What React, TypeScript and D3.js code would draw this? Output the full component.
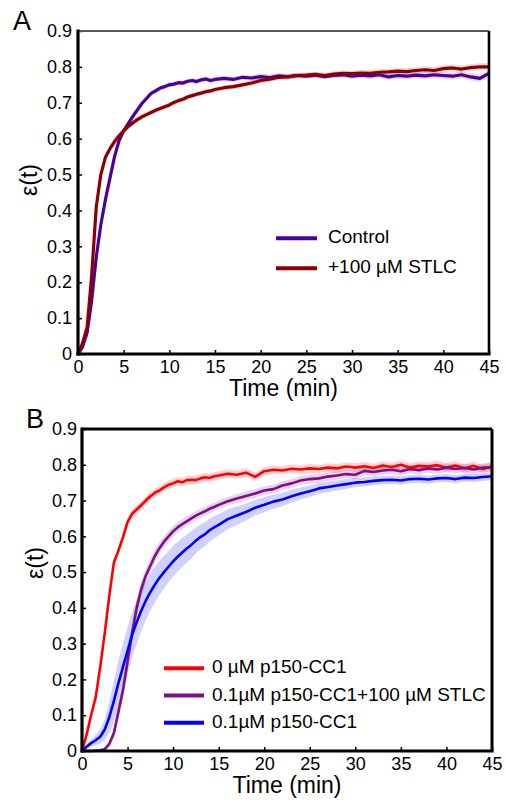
import { useRef, useEffect } from "react";
import * as d3 from "d3";

// time points (min)
const times = [
  0, 0.5, 1, 1.5, 2, 2.5, 3, 3.5, 4, 4.5,
  5, 5.5, 6, 6.5, 7, 7.5, 8, 8.5, 9, 9.5,
  10, 10.5, 11, 11.5, 12, 12.5, 13, 13.5, 14, 14.5,
  15,
  16, 17, 18, 19, 20, 21, 22, 23, 24, 25,
  26, 27, 28, 29, 30, 31, 32, 33, 34, 35,
  36, 37, 38, 39, 40, 41, 42, 43, 44, 45,
];

// panel A
const controlA = [
  0, 0.02, 0.06, 0.15, 0.27, 0.36, 0.43, 0.49, 0.55, 0.595,
  0.622, 0.642, 0.662, 0.68, 0.698, 0.712, 0.726, 0.733, 0.741, 0.745,
  0.75, 0.752, 0.756, 0.755, 0.76, 0.762, 0.759, 0.764, 0.766, 0.762,
  0.765,
  0.768, 0.765, 0.771, 0.769, 0.773, 0.77, 0.775, 0.772, 0.776, 0.774,
  0.777, 0.773, 0.776, 0.778, 0.774, 0.777, 0.775, 0.778, 0.772, 0.776,
  0.774, 0.777, 0.775, 0.778, 0.776, 0.774, 0.778, 0.772, 0.768, 0.782,
];
const stlcA = [
  0, 0.03, 0.075, 0.22, 0.41, 0.5, 0.548, 0.572, 0.592, 0.608,
  0.622, 0.634, 0.644, 0.653, 0.661, 0.667, 0.673, 0.679, 0.684, 0.689,
  0.694, 0.701, 0.706, 0.71, 0.716, 0.72, 0.724, 0.727, 0.731, 0.733,
  0.737,
  0.742, 0.745, 0.75, 0.755, 0.762, 0.766, 0.771, 0.773, 0.776, 0.777,
  0.779, 0.776, 0.78, 0.782, 0.781, 0.783, 0.782, 0.785, 0.786, 0.788,
  0.787, 0.79, 0.792, 0.79, 0.795, 0.797, 0.794, 0.798, 0.8, 0.8,
];
const semA = [
  0, 0.003, 0.005, 0.008, 0.01, 0.01, 0.01, 0.01, 0.01, 0.01,
  0.009, 0.008, 0.008, 0.008, 0.008, 0.008, 0.007, 0.007, 0.007, 0.007,
  0.007, 0.007, 0.007, 0.007, 0.007, 0.007, 0.007, 0.007, 0.007, 0.007,
  0.007,
  0.007, 0.007, 0.007, 0.008, 0.008, 0.008, 0.008, 0.008, 0.008, 0.008,
  0.008, 0.008, 0.008, 0.008, 0.008, 0.009, 0.009, 0.009, 0.009, 0.009,
  0.009, 0.009, 0.01, 0.01, 0.01, 0.01, 0.01, 0.01, 0.01, 0.01,
];

// panel B
const p150zero = [
  0, 0.045, 0.1, 0.15, 0.235, 0.33, 0.435, 0.527, 0.56, 0.598,
  0.64, 0.663, 0.675, 0.687, 0.7, 0.712, 0.722, 0.728, 0.737, 0.744,
  0.748, 0.754, 0.751, 0.757, 0.758, 0.757, 0.762, 0.765, 0.763, 0.768,
  0.77,
  0.775, 0.772, 0.778, 0.766, 0.782, 0.786, 0.784, 0.789, 0.787, 0.79,
  0.788, 0.792, 0.79, 0.795, 0.792, 0.796, 0.791, 0.798, 0.794, 0.8,
  0.792, 0.797, 0.795, 0.799, 0.792, 0.798, 0.79, 0.797, 0.788, 0.795,
];
const p150stlc = [
  0, 0, 0, 0.001, 0.002, 0.005, 0.02, 0.05, 0.11, 0.17,
  0.25, 0.33, 0.4, 0.452, 0.49, 0.518, 0.545, 0.567, 0.585, 0.6,
  0.614, 0.625, 0.634, 0.642, 0.65, 0.658, 0.664, 0.67, 0.677, 0.682,
  0.688,
  0.698, 0.706, 0.713, 0.72, 0.728, 0.732, 0.742, 0.748, 0.756, 0.76,
  0.762, 0.767, 0.77, 0.774, 0.772, 0.783, 0.78, 0.784, 0.786, 0.782,
  0.788, 0.785, 0.79, 0.787, 0.792, 0.788, 0.791, 0.787, 0.792, 0.793,
];
const p150 = [
  0, 0.012, 0.022, 0.03, 0.04, 0.06, 0.095, 0.14, 0.19, 0.235,
  0.28, 0.325, 0.36, 0.392, 0.42, 0.444, 0.465, 0.484, 0.5, 0.515,
  0.53, 0.543, 0.555, 0.566, 0.576, 0.588, 0.598, 0.606, 0.617, 0.625,
  0.632,
  0.648, 0.658, 0.668, 0.68, 0.688, 0.697, 0.703, 0.712, 0.72, 0.726,
  0.734, 0.738, 0.742, 0.746, 0.75, 0.752, 0.755, 0.757, 0.758, 0.756,
  0.76, 0.761, 0.759, 0.762, 0.763, 0.76, 0.764, 0.763, 0.766, 0.768,
];
const semZero = [
  0, 0.006, 0.008, 0.01, 0.01, 0.012, 0.012, 0.012, 0.012, 0.012,
  0.012, 0.012, 0.012, 0.012, 0.012, 0.012, 0.012, 0.012, 0.012, 0.012,
  0.012, 0.012, 0.012, 0.012, 0.012, 0.012, 0.012, 0.012, 0.012, 0.012,
  0.012,
  0.012, 0.012, 0.012, 0.012, 0.012, 0.012, 0.012, 0.012, 0.012, 0.012,
  0.012, 0.012, 0.012, 0.012, 0.012, 0.012, 0.012, 0.012, 0.012, 0.012,
  0.012, 0.012, 0.012, 0.012, 0.012, 0.012, 0.012, 0.012, 0.012, 0.012,
];
const semStlc = [
  0, 0, 0, 0, 0.002, 0.004, 0.008, 0.014, 0.02, 0.024,
  0.026, 0.026, 0.024, 0.022, 0.02, 0.019, 0.018, 0.017, 0.016, 0.016,
  0.015, 0.015, 0.014, 0.014, 0.014, 0.013, 0.013, 0.013, 0.013, 0.012,
  0.012,
  0.012, 0.012, 0.012, 0.012, 0.012, 0.012, 0.012, 0.012, 0.012, 0.012,
  0.012, 0.012, 0.012, 0.012, 0.012, 0.012, 0.012, 0.012, 0.012, 0.012,
  0.012, 0.012, 0.012, 0.012, 0.012, 0.012, 0.012, 0.012, 0.012, 0.012,
];
const semP150 = [
  0, 0.006, 0.01, 0.014, 0.02, 0.03, 0.045, 0.058, 0.064, 0.066,
  0.066, 0.064, 0.06, 0.057, 0.054, 0.052, 0.05, 0.048, 0.046, 0.044,
  0.043, 0.042, 0.04, 0.039, 0.038, 0.036, 0.035, 0.034, 0.032, 0.031,
  0.03,
  0.028, 0.026, 0.024, 0.022, 0.021, 0.02, 0.019, 0.018, 0.017, 0.016,
  0.015, 0.015, 0.014, 0.014, 0.013, 0.013, 0.012, 0.012, 0.012, 0.012,
  0.011, 0.011, 0.011, 0.011, 0.011, 0.011, 0.011, 0.011, 0.011, 0.011,
];

const xTicks = [0, 5, 10, 15, 20, 25, 30, 35, 40, 45];
const yTicks = [0, 0.1, 0.2, 0.3, 0.4, 0.5, 0.6, 0.7, 0.8, 0.9];
const yTickLabels = ["0", "0.1", "0.2", "0.3", "0.4", "0.5", "0.6", "0.7", "0.8", "0.9"];
const legendA = ["Control", "+100 µM STLC"];
const legendB = ["0 µM p150-CC1", "0.1µM p150-CC1+100 µM STLC", "0.1µM p150-CC1"];

const FONT = "'Liberation Sans', Arial, Helvetica, sans-serif";

function drawPanel(svg, p) {
  const x = d3.scaleLinear().domain([0, 45]).range([p.left, p.right]);
  const y = d3.scaleLinear().domain([0, 0.9]).range([p.bottom, p.top]);
  const g = svg.append("g");

  // shaded error bands
  p.series.forEach((s) => {
    const pts = times.map((t, i) => ({ t, v: s.values[i], e: s.sem[i] ?? 0 }));
    g.append("path")
      .datum(pts)
      .attr("fill", s.band)
      .attr(
        "d",
        d3
          .area()
          .x((d) => x(d.t))
          .y0((d) => y(Math.max(0, d.v - d.e)))
          .y1((d) => y(d.v + d.e))
      );
  });

  p.series.forEach((s) => {
    const pts = times.map((t, i) => ({ t, v: s.values[i] }));
    g.append("path")
      .datum(pts)
      .attr("fill", "none")
      .attr("stroke", s.color)
      .attr("stroke-width", p.lineWidth)
      .attr("stroke-linejoin", "round")
      .attr(
        "d",
        d3
          .line()
          .x((d) => x(d.t))
          .y((d) => y(d.v))
      );
  });

  // axes
  const xAxis = g
    .append("g")
    .attr("transform", `translate(0,${p.bottom})`)
    .call(d3.axisBottom(x).tickValues(xTicks).tickSize(-4).tickPadding(6).tickFormat(d3.format("d")));
  xAxis.select(".domain").remove();
  xAxis.attr("font-size", 18).attr("font-family", FONT);
  xAxis.selectAll("line").attr("stroke", "#000").attr("stroke-width", 1.5);
  xAxis.selectAll("text").attr("fill", "#000");

  const yAxis = g
    .append("g")
    .attr("transform", `translate(${p.left},0)`)
    .call(
      d3
        .axisLeft(y)
        .tickValues(yTicks)
        .tickSize(-4)
        .tickPadding(p.yPad)
        .tickFormat((d, i) => yTickLabels[i])
    );
  yAxis.select(".domain").remove();
  yAxis.attr("font-size", 18).attr("font-family", FONT);
  yAxis.selectAll("line").attr("stroke", "#000").attr("stroke-width", 1.5);
  yAxis.selectAll("text").attr("fill", "#000");

  // frame
  const frame = [
    { x1: p.left, y1: p.top, x2: p.right, y2: p.top, c: p.topColor, w: p.topWidth },
    { x1: p.right, y1: p.top, x2: p.right, y2: p.bottom, c: "#000", w: p.rightWidth },
    { x1: p.left, y1: p.top - 1.5, x2: p.left, y2: p.bottom + 1.5, c: "#000", w: 3.2 },
    { x1: p.left - 1.5, y1: p.bottom, x2: p.right + 1.5, y2: p.bottom, c: "#000", w: 3.2 },
  ];
  g.selectAll(".frame")
    .data(frame)
    .join("line")
    .attr("x1", (d) => d.x1)
    .attr("y1", (d) => d.y1)
    .attr("x2", (d) => d.x2)
    .attr("y2", (d) => d.y2)
    .attr("stroke", (d) => d.c)
    .attr("stroke-width", (d) => d.w);

  // titles
  g.append("text")
    .attr("x", (p.left + p.right) / 2)
    .attr("y", p.bottom + 42)
    .attr("text-anchor", "middle")
    .attr("font-family", FONT)
    .attr("font-size", 23)
    .text("Time (min)");

  g.append("text")
    .attr("transform", `translate(${p.yTitleX},${p.yTitleY}) rotate(-90)`)
    .attr("text-anchor", "middle")
    .attr("dominant-baseline", "central")
    .attr("font-family", FONT)
    .attr("font-size", 23)
    .text("ε(t)");

  g.append("text")
    .attr("x", p.letterX)
    .attr("y", p.letterY)
    .attr("font-family", FONT)
    .attr("font-size", 27)
    .text(p.letter);

  // legend
  const lg = g.append("g");
  p.series.forEach((s, i) => {
    const ly = p.legY + i * p.legStep;
    lg.append("line")
      .attr("x1", p.legX1)
      .attr("x2", p.legX2)
      .attr("y1", ly)
      .attr("y2", ly)
      .attr("stroke", s.color)
      .attr("stroke-width", 4);
    lg.append("text")
      .attr("x", p.legTextX)
      .attr("y", ly + 5)
      .attr("font-family", FONT)
      .attr("font-size", 19)
      .text(s.label);
  });
}

const App = () => {
  const svgRef = useRef(null);

  useEffect(() => {
    const svg = d3.select(svgRef.current);
    svg.selectAll("*").remove();

    drawPanel(svg, {
      left: 78,
      right: 489,
      top: 31,
      bottom: 354,
      lineWidth: 3.2,
      yPad: 6,
      topColor: "#555",
      topWidth: 2.2,
      rightWidth: 2.6,
      yTitleX: 29,
      yTitleY: 180,
      letter: "A",
      letterX: 13,
      letterY: 29.5,
      legX1: 276,
      legX2: 317,
      legTextX: 328,
      legY: 238.3,
      legStep: 30,
      series: [
        { values: controlA, sem: semA, color: "#4d0099", band: "rgba(77,0,153,0.15)", label: legendA[0] },
        { values: stlcA, sem: semA, color: "#8b0000", band: "rgba(139,0,0,0.15)", label: legendA[1] },
      ],
    });

    drawPanel(svg, {
      left: 82,
      right: 492,
      top: 429,
      bottom: 751,
      lineWidth: 2.6,
      yPad: 5,
      topColor: "#000",
      topWidth: 3,
      rightWidth: 3,
      yTitleX: 35,
      yTitleY: 563,
      letter: "B",
      letterX: 26,
      letterY: 428,
      legX1: 164,
      legX2: 204,
      legTextX: 212,
      legY: 668.3,
      legStep: 27.2,
      series: [
        { values: p150zero, sem: semZero, color: "#ff0000", band: "rgba(255,0,0,0.18)", label: legendB[0] },
        { values: p150stlc, sem: semStlc, color: "#7f0f87", band: "rgba(127,15,135,0.18)", label: legendB[1] },
        { values: p150, sem: semP150, color: "#0000ff", band: "rgba(0,0,255,0.18)", label: legendB[2] },
      ],
    });
  }, []);

  return (
    <svg
      ref={svgRef}
      width={506}
      height={807}
      style={{ position: "absolute", left: 0, top: 0, background: "#fff" }}
    ></svg>
  );
};

export default App;
